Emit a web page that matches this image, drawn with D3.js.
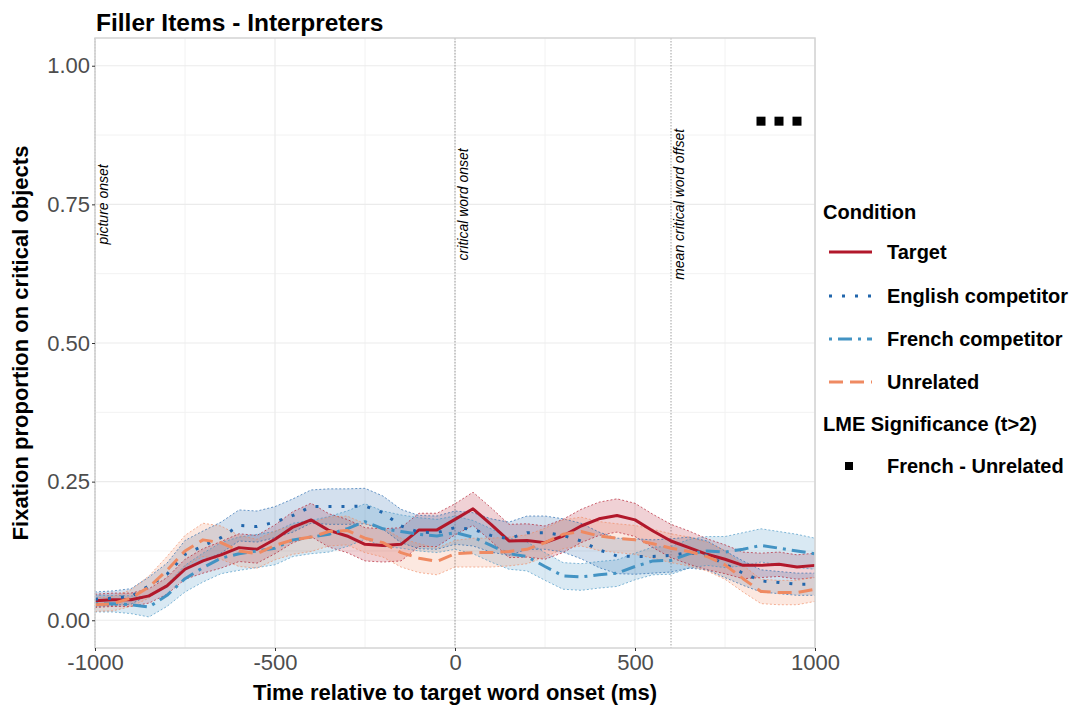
<!DOCTYPE html>
<html>
<head>
<meta charset="utf-8">
<script src="https://cdn.jsdelivr.net/npm/d3@7"></script>
<style>
  html, body { margin: 0; padding: 0; background: #fff; }
  svg { display: block; font-family: "Liberation Sans", Arial, sans-serif; }
</style>
</head>
<body>
<svg id="chart" width="1071" height="708"></svg>
<script>
// ---------------- data ----------------
const times = [-1000,-950,-900,-850,-800,-750,-700,-650,-600,-550,-500,-450,-400,-350,-300,-250,-200,-150,-100,-50,0,50,100,150,200,250,300,350,400,450,500,550,600,650,700,750,800,850,900,950,1000];

const targetMean = [0.035,0.037,0.037,0.044,0.062,0.092,0.107,0.118,0.131,0.128,0.146,0.168,0.181,0.162,0.152,0.137,0.135,0.137,0.163,0.163,0.182,0.201,0.173,0.143,0.144,0.140,0.152,0.170,0.183,0.189,0.181,0.161,0.143,0.131,0.119,0.110,0.099,0.099,0.101,0.096,0.099];
const targetSE   = [0.012,0.012,0.012,0.013,0.015,0.018,0.022,0.024,0.025,0.025,0.026,0.028,0.030,0.030,0.030,0.030,0.030,0.030,0.030,0.030,0.028,0.030,0.030,0.030,0.030,0.030,0.030,0.030,0.030,0.030,0.030,0.030,0.030,0.030,0.028,0.026,0.024,0.022,0.022,0.022,0.022];

const englishMean = [0.038,0.040,0.043,0.062,0.083,0.119,0.134,0.149,0.171,0.169,0.177,0.189,0.205,0.205,0.205,0.206,0.194,0.170,0.159,0.158,0.167,0.164,0.153,0.147,0.158,0.158,0.153,0.143,0.127,0.116,0.115,0.115,0.117,0.122,0.117,0.101,0.085,0.071,0.068,0.065,0.065];
const englishSE   = [0.013,0.013,0.014,0.016,0.020,0.025,0.027,0.028,0.028,0.028,0.028,0.030,0.030,0.032,0.032,0.032,0.030,0.030,0.030,0.030,0.030,0.030,0.030,0.030,0.030,0.030,0.030,0.032,0.032,0.032,0.032,0.030,0.030,0.028,0.026,0.024,0.022,0.020,0.020,0.020,0.020];

const frenchMean = [0.030,0.030,0.028,0.024,0.045,0.075,0.095,0.112,0.120,0.125,0.130,0.145,0.150,0.155,0.165,0.178,0.165,0.160,0.155,0.152,0.158,0.150,0.135,0.120,0.115,0.097,0.080,0.078,0.082,0.085,0.097,0.107,0.108,0.120,0.125,0.123,0.128,0.135,0.130,0.125,0.120];
const frenchSE   = [0.015,0.015,0.016,0.018,0.020,0.024,0.026,0.028,0.030,0.030,0.030,0.030,0.030,0.032,0.032,0.032,0.032,0.030,0.030,0.030,0.030,0.030,0.030,0.028,0.026,0.025,0.024,0.024,0.024,0.024,0.024,0.025,0.025,0.026,0.026,0.028,0.030,0.030,0.030,0.030,0.028];

const unrelatedMean = [0.028,0.030,0.040,0.060,0.090,0.125,0.145,0.140,0.125,0.120,0.135,0.145,0.150,0.160,0.162,0.148,0.140,0.122,0.112,0.106,0.120,0.122,0.122,0.124,0.128,0.140,0.155,0.160,0.152,0.148,0.145,0.138,0.130,0.124,0.115,0.100,0.075,0.052,0.050,0.050,0.056];
const unrelatedSE   = [0.012,0.013,0.015,0.020,0.025,0.028,0.030,0.030,0.028,0.026,0.026,0.026,0.026,0.026,0.026,0.026,0.026,0.026,0.026,0.024,0.024,0.026,0.026,0.026,0.026,0.026,0.026,0.026,0.026,0.026,0.026,0.026,0.026,0.026,0.026,0.026,0.024,0.022,0.022,0.022,0.022];

const conditionNames = ["Target","English competitor","French competitor","Unrelated"];
const conditionColors = ["#B2182B","#2166AC","#4393C3","#EF8A62"];
const conditionDash = ["none","3,10","3,6,14,6","14,7"];

const sigTimes = [850, 900, 950];
const sigLevel = 0.9;
const sigLabel = "French - Unrelated";

const markerTimes = [-1000, 0, 600];
const markerLabels = ["picture onset","critical word onset","mean critical word offset"];
const markerLabelY = 0.75;

const yTicks = [0, 0.25, 0.5, 0.75, 1];
const yMinor = [0.125, 0.375, 0.625, 0.875];
const xTicks = [-1000, -500, 0, 500, 1000];
const xMinor = [-750, -250, 250, 750];

// ---------------- chart ----------------
const svg = d3.select("#chart");
const L = 95, R = 815, T = 38, B = 648;
const x = d3.scaleLinear().domain([-1000, 1000]).range([L, R]);
const y = d3.scaleLinear().domain([-0.05, 1.05]).range([B, T]);

const series = [
  {mean: targetMean, se: targetSE},
  {mean: englishMean, se: englishSE},
  {mean: frenchMean, se: frenchSE},
  {mean: unrelatedMean, se: unrelatedSE}
].map((s, i) => ({
  name: conditionNames[i], color: conditionColors[i], dash: conditionDash[i],
  pts: times.map((t, j) => ({t, m: s.mean[j], lo: s.mean[j] - s.se[j], hi: s.mean[j] + s.se[j]}))
}));

// grid
const grid = svg.append("g");
grid.selectAll(".ymin").data(yMinor).join("line")
  .attr("x1", L).attr("x2", R).attr("y1", d => y(d)).attr("y2", d => y(d))
  .attr("stroke", "#f2f2f2").attr("stroke-width", 1);
grid.selectAll(".xmin").data(xMinor).join("line")
  .attr("y1", T).attr("y2", B).attr("x1", d => x(d)).attr("x2", d => x(d))
  .attr("stroke", "#f2f2f2").attr("stroke-width", 1);
grid.selectAll(".ymaj").data(yTicks).join("line")
  .attr("x1", L).attr("x2", R).attr("y1", d => y(d)).attr("y2", d => y(d))
  .attr("stroke", "#ebebeb").attr("stroke-width", 1.2);
grid.selectAll(".xmaj").data(xTicks).join("line")
  .attr("y1", T).attr("y2", B).attr("x1", d => x(d)).attr("x2", d => x(d))
  .attr("stroke", "#ebebeb").attr("stroke-width", 1.2);

// marker lines
svg.append("g").selectAll("line").data(markerTimes).join("line")
  .attr("x1", d => x(d)).attr("x2", d => x(d)).attr("y1", T).attr("y2", B)
  .attr("stroke", "#a0a0a0").attr("stroke-width", 1).attr("stroke-dasharray", "1.5,1.5");

// ribbons
const area = d3.area().x(d => x(d.t)).y0(d => y(d.lo)).y1(d => y(d.hi));
const lineLo = d3.line().x(d => x(d.t)).y(d => y(d.lo));
const lineHi = d3.line().x(d => x(d.t)).y(d => y(d.hi));
const rib = svg.append("g");
series.forEach(s => {
  rib.append("path").attr("d", area(s.pts)).attr("fill", s.color).attr("fill-opacity", 0.2);
});
series.forEach(s => {
  [lineLo, lineHi].forEach(f => {
    rib.append("path").attr("d", f(s.pts)).attr("fill", "none")
      .attr("stroke", s.color).attr("stroke-opacity", 0.65).attr("stroke-width", 1)
      .attr("stroke-dasharray", "2,2");
  });
});

// mean lines
const line = d3.line().x(d => x(d.t)).y(d => y(d.m));
const lines = svg.append("g");
series.forEach(s => {
  lines.append("path").attr("d", line(s.pts)).attr("fill", "none")
    .attr("stroke", s.color).attr("stroke-width", 3)
    .attr("stroke-dasharray", s.dash === "none" ? null : s.dash)
    .attr("stroke-linejoin", "round");
});

// significance squares
svg.append("g").selectAll("rect").data(sigTimes).join("rect")
  .attr("x", d => x(d) - 4.5).attr("y", y(sigLevel) - 4.5)
  .attr("width", 9).attr("height", 9).attr("fill", "#000");

// marker labels
svg.append("g").selectAll("text").data(markerTimes).join("text")
  .attr("transform", d => `translate(${x(d) + 13},${y(markerLabelY)}) rotate(-90)`)
  .attr("text-anchor", "middle").attr("font-size", 14).attr("font-style", "italic")
  .attr("fill", "#000").text((d, i) => markerLabels[i]);

// panel border
svg.append("rect").attr("x", L).attr("y", T).attr("width", R - L).attr("height", B - T)
  .attr("fill", "none").attr("stroke", "#d4d4d4").attr("stroke-width", 1.5);

// axes
const yAxis = svg.append("g").attr("transform", `translate(${L},0)`)
  .call(d3.axisLeft(y).tickValues(yTicks).tickFormat(d3.format(".2f")).tickSize(3).tickPadding(2));
const xAxis = svg.append("g").attr("transform", `translate(0,${B})`)
  .call(d3.axisBottom(x).tickValues(xTicks).tickFormat(d => String(d)).tickSize(3).tickPadding(3));
[yAxis, xAxis].forEach(a => {
  a.select(".domain").remove();
  a.selectAll(".tick line").attr("stroke", "#333");
  a.selectAll(".tick text").attr("font-size", 22).attr("fill", "#4d4d4d")
    .attr("font-family", "Liberation Sans, Arial, sans-serif");
});

// titles
svg.append("text").attr("x", 96).attr("y", 31).attr("font-size", 24.5).attr("font-weight", "bold")
  .text("Filler Items - Interpreters");
svg.append("text").attr("x", (L + R) / 2).attr("y", 700).attr("text-anchor", "middle")
  .attr("font-size", 22).attr("font-weight", "bold").text("Time relative to target word onset (ms)");
svg.append("text").attr("transform", `translate(28,${(T + B) / 2}) rotate(-90)`)
  .attr("text-anchor", "middle").attr("font-size", 22).attr("font-weight", "bold")
  .text("Fixation proportion on critical objects");

// legend
const lg = svg.append("g");
lg.append("text").attr("x", 823).attr("y", 219).attr("font-size", 20).attr("font-weight", "bold").text("Condition");
const legY = [252, 296, 339, 382];
series.forEach((s, i) => {
  lg.append("line").attr("x1", 829).attr("x2", 872).attr("y1", legY[i]).attr("y2", legY[i])
    .attr("stroke", s.color).attr("stroke-width", 3)
    .attr("stroke-dasharray", s.dash === "none" ? null : s.dash);
  lg.append("text").attr("x", 887).attr("y", legY[i] + 7).attr("font-size", 20)
    .attr("font-weight", "bold").text(s.name);
});
lg.append("text").attr("x", 823).attr("y", 431).attr("font-size", 20).attr("font-weight", "bold").text("LME Significance (t>2)");
lg.append("rect").attr("x", 845).attr("y", 462).attr("width", 8).attr("height", 8).attr("fill", "#000");
lg.append("text").attr("x", 887).attr("y", 473).attr("font-size", 20).attr("font-weight", "bold").text(sigLabel);
</script>
</body>
</html>
